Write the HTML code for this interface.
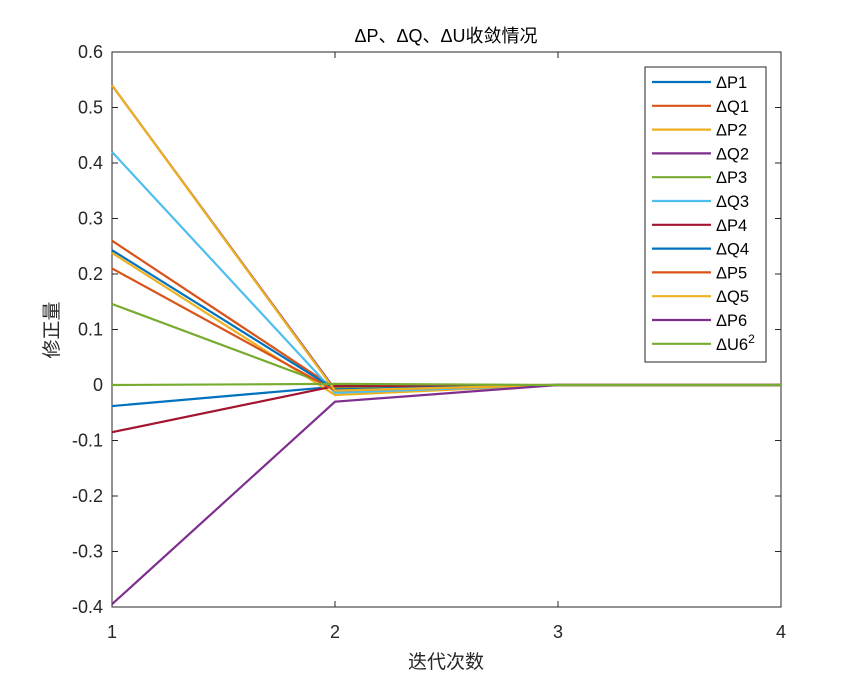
<!DOCTYPE html>
<html><head><meta charset="utf-8"><style>
body{margin:0;background:#fff;}
svg{display:block;font-family:"Liberation Sans","Noto Sans CJK SC",sans-serif;}
</style></head><body>
<svg id="chart" width="864" height="685">
<rect width="864" height="685" fill="#fff"/>
<g id="plot"></g>
</svg>
<script>
const iterations=[1,2,3,4];
const seriesNames=["ΔP1","ΔQ1","ΔP2","ΔQ2","ΔP3","ΔQ3","ΔP4","ΔQ4","ΔP5","ΔQ5","ΔP6","ΔU6"];
const seriesColors=["#0072BD","#D95319","#EDB120","#7E2F8E","#77AC30","#4DBEEE","#A2142F","#0072BD","#D95319","#EDB120","#7E2F8E","#77AC30"];
const sP1=[-0.038,-0.003,0,0];
const sQ1=[0.26,-0.006,0,0];
const sP2=[0.238,-0.018,0,0];
const sQ2=[0.54,-0.008,0,0];
const sP3=[0.146,-0.004,0,0];
const sQ3=[0.42,-0.014,0,0];
const sP4=[-0.085,-0.002,0,0];
const sQ4=[0.243,-0.008,0,0];
const sP5=[0.21,-0.01,0,0];
const sQ5=[0.54,-0.01,0,0];
const sP6=[-0.395,-0.03,0,0];
const sU6=[0,0.002,0,0];
const seriesValues=[sP1,sQ1,sP2,sQ2,sP3,sQ3,sP4,sQ4,sP5,sQ5,sP6,sU6];
const yTicks=[0.6,0.5,0.4,0.3,0.2,0.1,0,-0.1,-0.2,-0.3,-0.4];
const yTickLabels=["0.6","0.5","0.4","0.3","0.2","0.1","0","-0.1","-0.2","-0.3","-0.4"];
const xTicks=[1,2,3,4];
const xTickLabels=["1","2","3","4"];
const L=112,R=781,T=52,B=607;
const xS=v=>L+(v-1)/(3)*(R-L);
const yS=v=>T+(0.6-v)/1.0*(B-T);
const NS="http://www.w3.org/2000/svg";
const g=document.getElementById('plot');
function mk(t,a,txt){const e=document.createElementNS(NS,t);for(const k in a)e.setAttribute(k,a[k]);if(txt!==undefined)e.textContent=txt;g.appendChild(e);return e;}
let e=mk('rect',{x:L,y:T,width:R-L,height:B-T,fill:'none',stroke:'#262626','stroke-width':1});


yTicks.forEach((v,i)=>{
 const y=yS(v);
 let t=mk('line',{x1:L,x2:L+6,y1:y,y2:y,stroke:'#262626'});
 
 
 let t2=mk('line',{x1:R,x2:R-6,y1:y,y2:y,stroke:'#262626'});
 
 
 let l=mk('text',{x:L-9,y:y+6,'text-anchor':'end','font-size':18,fill:'#262626'},yTickLabels[i]);
 
 
});
xTicks.forEach((v,i)=>{
 const x=xS(v);
 let t=mk('line',{x1:x,x2:x,y1:B,y2:B-6,stroke:'#262626'});
 
 
 let t2=mk('line',{x1:x,x2:x,y1:T,y2:T+6,stroke:'#262626'});
 
 
 let l=mk('text',{x:x,y:B+31,'text-anchor':'middle','font-size':18,fill:'#262626'},xTickLabels[i]);
 
 
});
seriesValues.forEach((vals,i)=>{
 const pts=vals.map((v,j)=>xS(iterations[j])+','+yS(v)).join(' ');
 let p=mk('polyline',{points:pts,fill:'none',stroke:seriesColors[i],'stroke-width':2.2});
 
 
});
let lg=mk('rect',{x:645,y:67,width:121,height:295,fill:'#fff',stroke:'#262626','stroke-width':1});


seriesNames.forEach((n,i)=>{
 const y=82+i*23.8;
 let ln=mk('line',{x1:652,x2:711,y1:y,y2:y,stroke:seriesColors[i],'stroke-width':2.2});
 
 
 let tx=mk('text',{x:716,y:y+6,'font-size':16.5,fill:'#000'},n);
 
 
 if(i===11){const s=document.createElementNS(NS,'tspan');s.setAttribute('dy','-7');s.setAttribute('font-size','12');s.textContent='2';tx.appendChild(s);}
});
let ti=mk('text',{x:446,y:42,'text-anchor':'middle','font-size':18,fill:'#000'},'ΔP、ΔQ、ΔU收敛情况');


let xt=mk('text',{x:446,y:668,'text-anchor':'middle','font-size':19,fill:'#262626'},'迭代次数');


let yt=mk('text',{x:0,y:0,'text-anchor':'middle','font-size':19,fill:'#262626',transform:'translate(58,330) rotate(-90)'},'修正量');


</script>
</body></html>
